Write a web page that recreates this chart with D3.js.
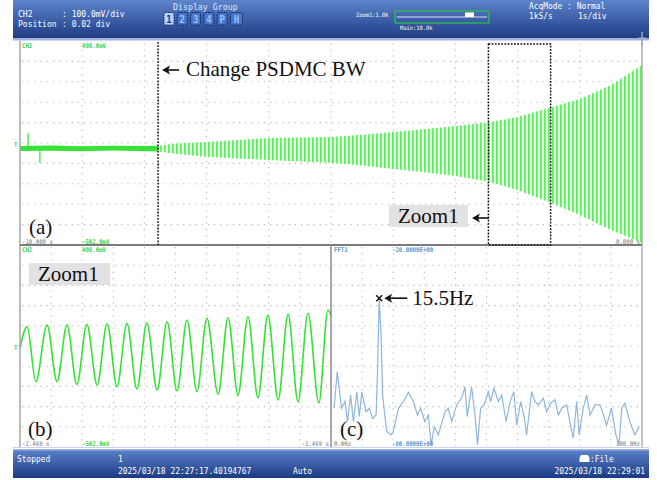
<!DOCTYPE html>
<html>
<head>
<meta charset="utf-8">
<script src="https://cdn.jsdelivr.net/npm/d3@7"></script>
<style>
  body { margin: 0; background: #fff; }
  text { white-space: pre; }
</style>
</head>
<body>
<div id="scope"></div>
<script>
// ---------- values ----------
// (a) main trace, 1 s/div, envelope of the CH2 signal (mV)
var envTime  = [-10, -9.5, -9, -8.5, -8, -7.78, -7.5, -7, -6.5, -6, -5.5, -5, -4.5, -4, -3.5, -3, -2.44, -2, -1.5, -1, -0.5, 0];
var envUpper = [-17, -14, -18, -15, -17, -15, -5, 3, 13, 22, 25, 27, 38, 52, 65, 81, 101, 125, 170, 214, 282, 380];
var envLower = [-41, -40, -42, -39, -43, -44, -55, -71, -78, -85, -93, -100, -112, -129, -145, -164, -193, -232, -291, -355, -428, -492];
var glitchTime  = [-9.87, -9.68];
var glitchValue = [47, -100];
var bwChangeTime = -7.78;

// (b) Zoom1 window, peaks and troughs of the oscillation (s, mV)
var zoomTime  = [-2.469, -2.446, -2.418, -2.382, -2.350, -2.318, -2.286, -2.254, -2.221, -2.189, -2.157,
                 -2.125, -2.093, -2.061, -2.028, -1.996, -1.964, -1.932, -1.900, -1.868, -1.832, -1.800,
                 -1.768, -1.736, -1.704, -1.672, -1.639, -1.607, -1.575, -1.543, -1.508, -1.479, -1.469];
var zoomValue = [-12, 94, -179, 102, -179, 102, -192, 105, -195, 108, -203,
                 110, -215, 113, -220, 118, -225, 127, -228, 135, -241, 138,
                 -245, 143, -258, 151, -269, 156, -278, 160, -284, 176, 150];
var zoomRange = [-2.469, -1.469];

// (c) FFT of the Zoom1 window (Hz, dB)
var fftHz = [1.0, 2.0, 3.4, 4.5, 5.3, 6.3, 7.2, 8.3, 9.1, 9.9, 11.3, 12.3, 13.4, 14.5, 15.0, 15.5, 16.1, 16.6,
             17.9, 19.2, 20.0, 21.7, 23.3, 24.9, 26.5, 27.8, 28.8, 30.2, 31.3, 32.2, 33.2, 34.5, 36.7, 37.7,
             38.8, 40.4, 42.0, 43.1, 43.8, 45.2, 46.3, 47.1, 48.1, 49.2, 50.6, 51.3, 52.4, 53.8, 54.9, 56.3,
             57.6, 58.8, 59.7, 61.0, 62.1, 62.9, 64.5, 65.6, 66.7, 68.3, 69.3, 70.6, 72.0, 73.1, 74.2, 75.8,
             76.8, 77.9, 79.0, 79.8, 81.1, 82.2, 83.3, 84.9, 86.5, 87.6, 88.6, 90.2, 91.6, 92.6, 93.5, 94.5,
             96.1, 97.7, 99.1];
var fftDb = [-68.5, -57.6, -68.5, -66.5, -72.5, -64.6, -72.5, -63.6, -71.0, -63.6, -69.5, -68.5, -71.5, -70.5, -56.6, -35.8, -46.7, -64.6,
             -75.4, -76.4, -75.4, -68.5, -66.5, -63.8, -66.5, -70.5, -68.5, -72.5, -70.5, -79.4, -74.0, -76.4, -69.5, -68.5,
             -72.5, -67.5, -65.5, -62.1, -71.0, -62.1, -70.5, -79.4, -68.5, -67.5, -63.6, -66.5, -62.6, -66.5, -64.6, -72.5,
             -66.5, -63.6, -73.5, -66.5, -71.0, -76.4, -63.6, -66.5, -67.5, -65.5, -69.5, -67.0, -66.0, -70.5, -68.5, -67.5,
             -72.5, -77.4, -66.5, -76.4, -68.5, -64.6, -70.5, -67.5, -67.5, -70.5, -73.5, -68.5, -76.4, -79.4, -68.5, -67.0,
             -72.5, -76.4, -74.0];
var peakHz = 15.5, peakDb = -35.8;

var displayGroup = ["1", "2", "3", "4", "P", "H"];

// ---------- page ----------
var W = 657, H = 480;
var green = "#35e235", fftBlue = "#8fb6dc", gridGrey = "#b9b9b9";

var svg = d3.select("#scope").append("svg")
  .attr("width", W).attr("height", H);

var defs = svg.append("defs");
var barGrad = defs.append("linearGradient").attr("id", "bar")
  .attr("x1", 0).attr("y1", 0).attr("x2", 0).attr("y2", 1);
barGrad.append("stop").attr("offset", "0%").attr("stop-color", "#5d84cc");
barGrad.append("stop").attr("offset", "100%").attr("stop-color", "#1c3a82");

// the 15.5 Hz oscillation is far too dense at 1 s/div, it shows as vertical hatching
var stripes = defs.append("pattern").attr("id", "stripes")
  .attr("patternUnits", "userSpaceOnUse").attr("width", 4).attr("height", 8);
stripes.append("rect").attr("width", 4).attr("height", 8).attr("fill", "#e2fae2");
stripes.append("rect").attr("width", 1.7).attr("height", 8).attr("fill", "#62e862");

function txt(g, x, y, s, o) {
  o = o || {};
  return g.append("text")
    .attr("transform", "translate(" + x + "," + y + ") scale(" + (o.sx || 0.88) + ",1)")
    .attr("font-family", o.family || "DejaVu Sans Mono")
    .attr("font-size", o.size || 9)
    .attr("font-weight", o.weight || "normal")
    .attr("fill", o.fill || "#fff")
    .attr("text-anchor", o.anchor || "start")
    .text(s);
}
function serif(g, x, y, s) {
  return g.append("text").attr("x", x).attr("y", y)
    .attr("font-family", "Liberation Serif").attr("font-size", 21)
    .attr("fill", "#111").text(s);
}
function leftArrow(g, x0, x1, y) {
  g.append("line").attr("x1", x0 + 6).attr("x2", x1).attr("y1", y).attr("y2", y)
    .attr("stroke", "#111").attr("stroke-width", 1.6);
  g.append("path").attr("d", "M" + x0 + "," + y + " l8,-4.5 l-2,4.5 l2,4.5 z").attr("fill", "#111");
}

// ---------- top status bar ----------
var topBar = svg.append("g");
topBar.append("rect").attr("x", 13).attr("y", 0).attr("width", 636).attr("height", 39).attr("fill", "url(#bar)");
topBar.append("rect").attr("x", 13).attr("y", 38).attr("width", 636).attr("height", 2.5).attr("fill", "#9db3dd");

var hdr = { size: 8, sx: 1 };
txt(topBar, 18, 16.5, "CH2", hdr);
txt(topBar, 62, 16.5, ": 100.0mV/div", hdr);
txt(topBar, 18, 26.5, "Position", hdr);
txt(topBar, 62, 26.5, ": 0.02 div", hdr);
txt(topBar, 173, 10, "Display Group", { fill: "#dbe7ff", sx: 0.92 });

displayGroup.forEach(function(d, i) {
  var bx = 164 + i * 13.3, w = d === "H" ? 12 : 10;
  topBar.append("rect").attr("x", bx).attr("y", 12.5).attr("width", w).attr("height", 12.5)
    .attr("rx", 1.5)
    .attr("fill", i === 0 ? "#b4d2ff" : "#4676cc")
    .attr("stroke", "#10204a").attr("stroke-width", 1).attr("stroke-dasharray", "1.5,1");
  txt(topBar, bx + w / 2, 22.5, d, { fill: i === 0 ? "#1a3a8a" : "#9fc2fa", anchor: "middle", size: 10, sx: 0.9, weight: "bold" });
});

txt(topBar, 356, 17, "Zoom1:1.0k", { size: 6, sx: 0.9 });
txt(topBar, 400, 30, "Main:10.0k", { size: 6, sx: 0.9 });
topBar.append("rect").attr("x", 395).attr("y", 11).attr("width", 94).attr("height", 12)
  .attr("fill", "none").attr("stroke", "#2cbf4a").attr("stroke-width", 1.3);
topBar.append("line").attr("x1", 397).attr("x2", 487).attr("y1", 17).attr("y2", 17)
  .attr("stroke", "#d8e2f4").attr("stroke-width", 1);
topBar.append("rect").attr("x", 465).attr("y", 12.5).attr("width", 9).attr("height", 4.5).attr("fill", "#fff");

txt(topBar, 529, 9, "AcqMode : Normal");
txt(topBar, 529, 18.5, "1kS/s");
txt(topBar, 578, 18.5, "1s/div");

// ---------- bottom status bar ----------
var botBar = svg.append("g");
botBar.append("rect").attr("x", 13).attr("y", 449).attr("width", 636).attr("height", 29).attr("fill", "url(#bar)");
botBar.append("rect").attr("x", 13).attr("y", 449).attr("width", 636).attr("height", 1.5).attr("fill", "#9db3dd");
txt(botBar, 17, 462, "Stopped");
txt(botBar, 118, 462, "1");
txt(botBar, 118, 474, "2025/03/18 22:27:17.40194767");
txt(botBar, 293, 474, "Auto");
botBar.append("path").attr("d", "M581,455 h7 l1.5,3 v4 h-10 v-4 z").attr("fill", "#fff");
txt(botBar, 590, 462, ":File");
txt(botBar, 645, 474, "2025/03/18 22:29:01", { anchor: "end" });

// ---------- scales ----------
var xA = d3.scaleLinear().domain([-10, 0]).range([20, 642]);
var yA = d3.scaleLinear().domain([-502, 498]).range([245, 41]);
var xB = d3.scaleLinear().domain(zoomRange).range([20, 331]);
var yB = d3.scaleLinear().domain([-502, 498]).range([447, 245]);
var xC = d3.scaleLinear().domain([0, 100]).range([331, 642]);
var yC = d3.scaleLinear().domain([-80, -20]).range([447, 245]);

function grid(xs, ys, xt, yt) {
  var g = svg.append("g").attr("stroke", gridGrey).attr("stroke-width", 1.1).attr("stroke-dasharray", "1.2,5");
  g.selectAll(".v").data(xt).enter().append("line")
    .attr("x1", function(d) { return xs(d); }).attr("x2", function(d) { return xs(d); })
    .attr("y1", ys.range()[1] + 2).attr("y2", ys.range()[0]);
  g.selectAll(".h").data(yt).enter().append("line")
    .attr("x1", xs.range()[0] + 2).attr("x2", xs.range()[1])
    .attr("y1", function(d) { return ys(d); }).attr("y2", function(d) { return ys(d); });
}
grid(xA, yA, d3.range(-9, -0.5, 1), d3.range(-402, 450, 100));
grid(xB, yB, d3.range(1, 10).map(function(i) { return zoomRange[0] + i * 0.1; }), d3.range(-402, 450, 100));
grid(xC, yC, d3.range(10, 100, 10), d3.range(-74, -21, 6));

// ---------- (a) main trace ----------
var env = envTime.map(function(t, i) { return { t: t, hi: envUpper[i], lo: envLower[i] }; });
var area = d3.area()
  .x(function(d) { return xA(d.t); })
  .y0(function(d) { return yA(d.lo); })
  .y1(function(d) { return yA(d.hi); });

svg.append("path").datum(env.filter(function(d) { return d.t >= bwChangeTime; }))
  .attr("d", area).attr("fill", "url(#stripes)");
svg.append("path").datum(env.filter(function(d) { return d.t <= bwChangeTime; }))
  .attr("d", area).attr("fill", green);
svg.selectAll(".glitch").data(glitchTime).enter().append("line")
  .attr("x1", function(d) { return xA(d); }).attr("x2", function(d) { return xA(d); })
  .attr("y1", yA(-29)).attr("y2", function(d, i) { return yA(glitchValue[i]); })
  .attr("stroke", green).attr("stroke-width", 1.2);

// ---------- (b) Zoom1 trace ----------
var zoomLine = d3.line()
  .x(function(d, i) { return xB(zoomTime[i]); })
  .y(function(d) { return yB(d); })
  .curve(d3.curveMonotoneX);
svg.append("path").datum(zoomValue).attr("d", zoomLine)
  .attr("fill", "none").attr("stroke", green).attr("stroke-width", 1.6);

// ---------- (c) FFT ----------
var fftLine = d3.line()
  .x(function(d, i) { return xC(fftHz[i]); })
  .y(function(d) { return yC(d); });
svg.append("path").datum(fftDb).attr("d", fftLine)
  .attr("fill", "none").attr("stroke", fftBlue).attr("stroke-width", 1.2);

// ---------- frame ----------
var frame = svg.append("g");
frame.append("line").attr("x1", 20).attr("x2", 20).attr("y1", 41).attr("y2", 447).attr("stroke", "#a6a6a6").attr("stroke-width", 1.5);
frame.append("line").attr("x1", 642).attr("x2", 642).attr("y1", 41).attr("y2", 447).attr("stroke", "#b0b0b0").attr("stroke-width", 1.5);
frame.append("line").attr("x1", 20).attr("x2", 642).attr("y1", 245).attr("y2", 245).attr("stroke", "#7c7c7c").attr("stroke-width", 2);
frame.append("line").attr("x1", 331).attr("x2", 331).attr("y1", 245).attr("y2", 447).attr("stroke", "#8a8a8a").attr("stroke-width", 1.5);
frame.append("line").attr("x1", 13).attr("x2", 649).attr("y1", 447.5).attr("y2", 447.5).attr("stroke", "#c8d4ea").attr("stroke-width", 1);
// trigger position marker
frame.append("line").attr("x1", 642).attr("x2", 642).attr("y1", 32).attr("y2", 46).attr("stroke", "#9aa8c0").attr("stroke-width", 1.5);
frame.append("line").attr("x1", 638).attr("x2", 646).attr("y1", 38).attr("y2", 38).attr("stroke", "#9aa8c0").attr("stroke-width", 1.2);

// panel readouts
var lab = svg.append("g");
txt(lab, 22, 47.5, "CH2", { fill: "#3ccf3c", size: 6.5, weight: "bold" });
txt(lab, 82, 47.5, "498.0mV", { fill: "#3ccf3c", size: 6.5, weight: "bold" });
txt(lab, 22, 244, "-10.000 s", { fill: "#a0a0a0", size: 6.5, weight: "bold" });
txt(lab, 82, 244, "-502.0mV", { fill: "#3ccf3c", size: 6.5, weight: "bold" });
txt(lab, 640, 244, "0.000 s", { fill: "#a0a0a0", size: 6.5, weight: "bold", anchor: "end" });
txt(lab, 14, yA(0) + 4, "T", { fill: "#3ccf3c", size: 6.5, weight: "bold" });

txt(lab, 22, 252, "CH2", { fill: "#3ccf3c", size: 6.5, weight: "bold" });
txt(lab, 82, 252, "498.0mV", { fill: "#3ccf3c", size: 6.5, weight: "bold" });
txt(lab, 22, 446, "-2.469 s", { fill: "#a0a0a0", size: 6.5, weight: "bold" });
txt(lab, 82, 446, "-502.0mV", { fill: "#3ccf3c", size: 6.5, weight: "bold" });
txt(lab, 329, 446, "-1.469 s", { fill: "#a0a0a0", size: 6.5, weight: "bold", anchor: "end" });
txt(lab, 14, yB(0) + 4, "T", { fill: "#3ccf3c", size: 6.5, weight: "bold" });

txt(lab, 334, 252, "FFT1", { fill: "#5b95d0", size: 6.5, weight: "bold" });
txt(lab, 392, 252, "-20.0000E+00", { fill: "#5b95d0", size: 6.5, weight: "bold" });
txt(lab, 334, 446, "0.0Hz", { fill: "#a0a0a0", size: 6.5, weight: "bold" });
txt(lab, 392, 446, "-80.0000E+00", { fill: "#5b95d0", size: 6.5, weight: "bold" });
txt(lab, 640, 446, "100.0Hz", { fill: "#a0a0a0", size: 6.5, weight: "bold", anchor: "end" });

// ---------- annotations ----------
var ann = svg.append("g");
var xBw = xA(bwChangeTime);
ann.append("line").attr("x1", xBw).attr("x2", xBw).attr("y1", 42).attr("y2", 245)
  .attr("stroke", "#111").attr("stroke-width", 1.5).attr("stroke-dasharray", "1.8,1.4");
leftArrow(ann, xBw + 4, xBw + 21, 70);
serif(ann, 186, 76, "Change PSDMC BW");

ann.append("rect").attr("x", xA(zoomRange[0])).attr("y", 44)
  .attr("width", xA(zoomRange[1]) - xA(zoomRange[0])).attr("height", 201)
  .attr("fill", "none").attr("stroke", "#111").attr("stroke-width", 1.5).attr("stroke-dasharray", "1.8,1.4");
ann.append("rect").attr("x", 389).attr("y", 205).attr("width", 79).attr("height", 22).attr("fill", "#e2e2e2");
serif(ann, 398, 223, "Zoom1");
leftArrow(ann, 472, 489, 218);
serif(ann, 29, 234, "(a)");

ann.append("rect").attr("x", 29).attr("y", 263).attr("width", 81).attr("height", 22).attr("fill", "#e2e2e2");
serif(ann, 38, 281, "Zoom1");
serif(ann, 28, 436, "(b)");

var px = xC(peakHz), py = yC(peakDb);
ann.append("path").attr("d", "M" + (px - 3) + "," + (py - 3) + " l6,6 M" + (px + 3) + "," + (py - 3) + " l-6,6")
  .attr("stroke", "#111").attr("stroke-width", 1.5);
leftArrow(ann, px + 5, px + 28, py);
serif(ann, px + 33, py + 7, "15.5Hz");
serif(ann, 340, 436, "(c)");
</script>
</body>
</html>
